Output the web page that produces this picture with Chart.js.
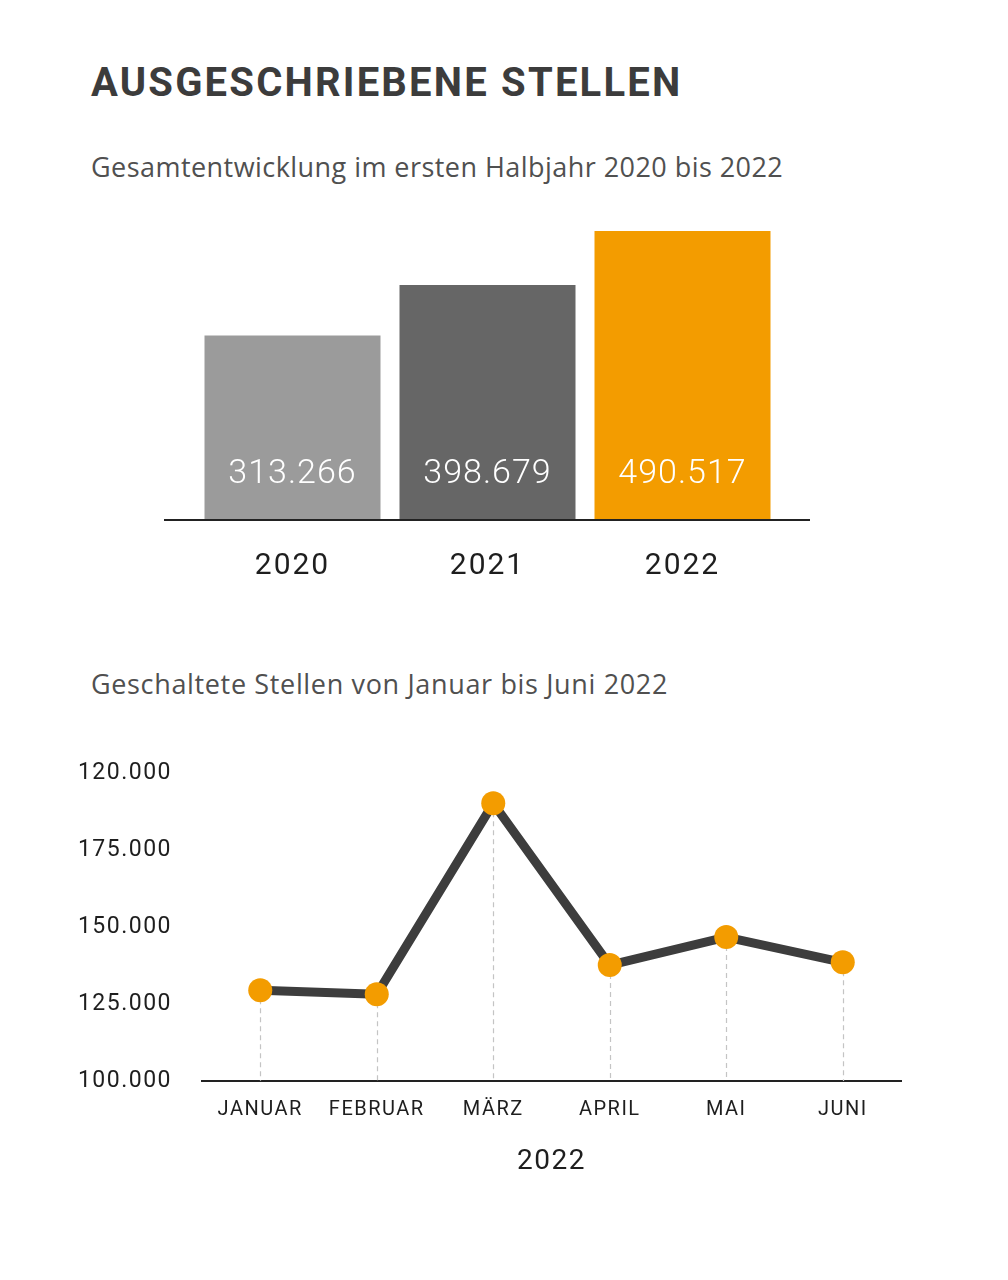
<!DOCTYPE html>
<html lang="de">
<head>
<meta charset="utf-8">
<title>Ausgeschriebene Stellen</title>
<script src="https://cdn.jsdelivr.net/npm/chart.js@4.4.1/dist/chart.umd.min.js"></script>
<style>
  html, body { margin: 0; padding: 0; background: #fff; }
  body { width: 1008px; height: 1280px; position: relative; overflow: hidden; }
  h1 {
    position: absolute; left: 91px; top: 63px; margin: 0;
    font: 700 40px/40px Roboto, sans-serif; letter-spacing: 2.2px; color: #3c3c3c;
  }
  .sub {
    position: absolute; left: 91px; margin: 0;
    font: 400 27px/30px "Open Sans", sans-serif; letter-spacing: 0.45px; color: #505050;
  }
  canvas { position: absolute; left: 0; }
</style>
</head>
<body>
<h1>AUSGESCHRIEBENE STELLEN</h1>
<p class="sub" style="top:152px">Gesamtentwicklung im ersten Halbjahr 2020 bis 2022</p>
<canvas id="barChart" width="1008" height="440" style="top:180px"></canvas>
<p class="sub" style="top:669px; letter-spacing:0.65px">Geschaltete Stellen von Januar bis Juni 2022</p>
<canvas id="lineChart" width="1008" height="468" style="top:732px"></canvas>

<script>
// Halbjahreswerte 2020-2022
const years = ['2020', '2021', '2022'];
const yearTotals = [313266, 398679, 490517];
const yearLabels = ['313.266', '398.679', '490.517'];
const barColors = ['#9b9b9b', '#666666', '#f39c00'];

// Monatswerte 2022
const months = ['JANUAR', 'FEBRUAR', 'MÄRZ', 'APRIL', 'MAI', 'JUNI'];
const monthValues = [129500, 128200, 190300, 137700, 146800, 138600];
const yTickLabels = ['100.000', '125.000', '150.000', '175.000', '120.000'];
const monthAxisTitle = '2022';

// letter spacing for canvas text
const spacingPlugin = {
  id: 'spacing',
  beforeDraw(chart, args, opts) {
    chart.ctx.letterSpacing = opts.px || '0px';
  }
};

// extended baseline + values inside the bars
const barDecor = {
  id: 'barDecor',
  afterDatasetsDraw(chart) {
    const ctx = chart.ctx;
    const area = chart.chartArea;
    ctx.save();
    ctx.strokeStyle = '#222';
    ctx.lineWidth = 2;
    ctx.beginPath();
    ctx.moveTo(area.left - 31, area.bottom);
    ctx.lineTo(area.right + 30, area.bottom);
    ctx.stroke();

    ctx.fillStyle = '#fff';
    ctx.font = '300 34px Roboto, sans-serif';
    ctx.letterSpacing = '1px';
    ctx.textAlign = 'center';
    ctx.textBaseline = 'middle';
    chart.getDatasetMeta(0).data.forEach((bar, i) => {
      ctx.fillText(yearLabels[i], bar.x, area.bottom - 46);
    });
    ctx.restore();
  }
};

// dashed drop lines under the points
const dropLines = {
  id: 'dropLines',
  beforeDatasetsDraw(chart) {
    const ctx = chart.ctx;
    const bottom = chart.chartArea.bottom;
    ctx.save();
    ctx.strokeStyle = '#c4c4c4';
    ctx.lineWidth = 1.2;
    ctx.setLineDash([5, 4]);
    chart.getDatasetMeta(0).data.forEach(pt => {
      ctx.beginPath();
      ctx.moveTo(Math.round(pt.x) + 0.5, pt.y);
      ctx.lineTo(Math.round(pt.x) + 0.5, bottom);
      ctx.stroke();
    });
    ctx.restore();
  }
};

new Chart(document.getElementById('barChart'), {
  type: 'bar',
  data: {
    labels: years,
    datasets: [{
      data: yearTotals,
      backgroundColor: barColors,
      borderWidth: 0,
      barPercentage: 0.9026,
      categoryPercentage: 1
    }]
  },
  options: {
    responsive: false,
    animation: false,
    layout: { padding: { left: 195, right: 228, top: 20, bottom: 8 } },
    plugins: {
      legend: { display: false },
      tooltip: { enabled: false },
      spacing: { px: '2px' }
    },
    scales: {
      x: {
        grid: { display: false, drawTicks: false },
        border: { display: false },
        ticks: {
          padding: 31,
          color: '#1e1e1e',
          font: { family: 'Roboto', size: 30, weight: '400', lineHeight: 1 }
        }
      },
      y: {
        display: false,
        min: 0,
        max: 543000
      }
    }
  },
  plugins: [spacingPlugin, barDecor]
});

new Chart(document.getElementById('lineChart'), {
  type: 'line',
  data: {
    labels: months,
    datasets: [{
      data: monthValues,
      borderColor: '#3d3d3d',
      borderWidth: 9,
      borderJoinStyle: 'round',
      tension: 0,
      pointRadius: 12,
      pointHoverRadius: 12,
      pointBackgroundColor: '#f39c00',
      pointBorderWidth: 0,
      clip: false
    }]
  },
  options: {
    responsive: false,
    animation: false,
    layout: { padding: { left: 72, right: 107, top: 10, bottom: 24 } },
    plugins: {
      legend: { display: false },
      tooltip: { enabled: false },
      spacing: { px: '1.5px' }
    },
    scales: {
      x: {
        offset: true,
        grid: { display: false, drawTicks: false },
        border: { display: true, color: '#222', width: 2 },
        ticks: {
          padding: 19,
          color: '#1e1e1e',
          font: { family: 'Roboto', size: 20, weight: '400', lineHeight: 1 }
        },
        title: {
          display: true,
          text: monthAxisTitle,
          color: '#1e1e1e',
          padding: { top: 9, bottom: 0 },
          font: { family: 'Roboto', size: 28, weight: '400', lineHeight: 1 }
        }
      },
      y: {
        min: 100000,
        max: 200000,
        afterFit(scale) { scale.width = 130; },
        grid: { display: false, drawTicks: false },
        border: { display: false },
        ticks: {
          stepSize: 25000,
          padding: 30,
          color: '#1e1e1e',
          font: { family: 'Roboto', size: 23, weight: '400', lineHeight: 1 },
          callback: (value, index) => yTickLabels[index]
        }
      }
    }
  },
  plugins: [spacingPlugin, dropLines]
});
</script>
</body>
</html>
